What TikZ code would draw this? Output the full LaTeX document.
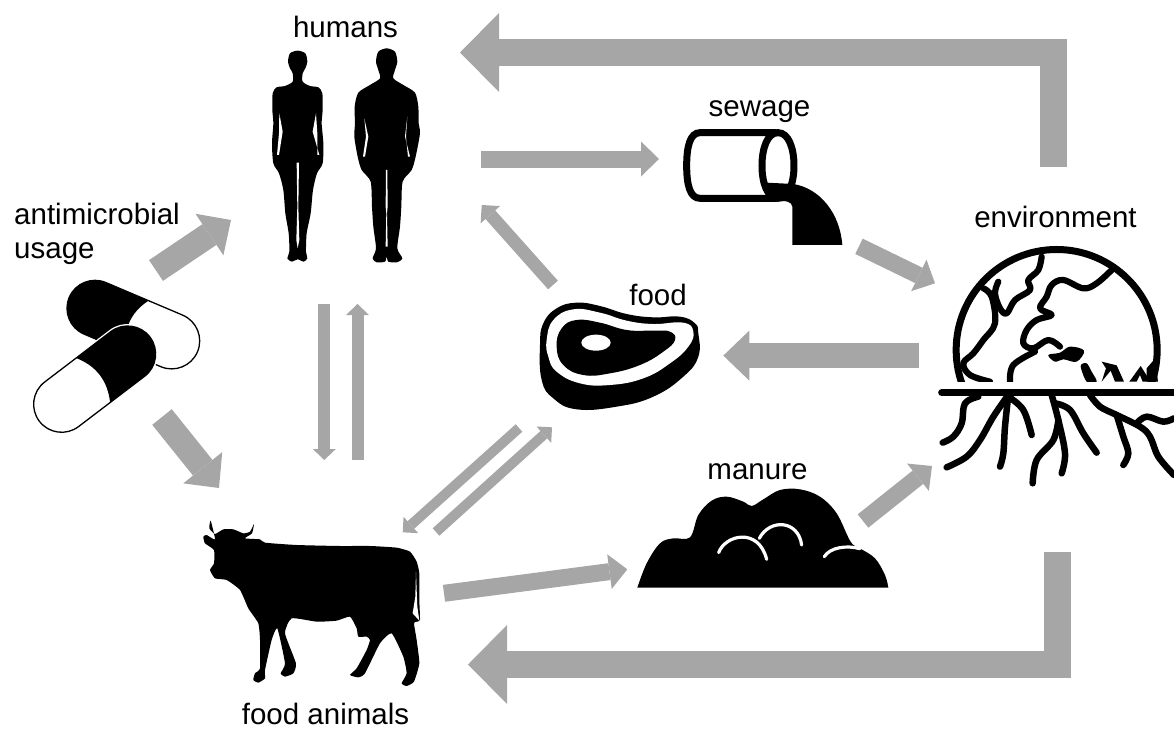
\documentclass[tikz,border=0pt]{standalone}
\usepackage{fontspec}
\setmainfont{Liberation Sans}
\usepackage{xcolor}
\usetikzlibrary{arrows.meta}
\definecolor{flowgray}{HTML}{A6A6A6}
\tikzset{
  lab/.style      = {font=\fontsize{29.5}{34}\selectfont, inner sep=0pt, anchor=base},
  zoomed/.style   = {shift={#1}, x=0.3333pt, y=-0.3333pt},
  flow/.style     = {draw=flowgray, line join=miter, miter limit=10},
  hugeflow/.style = {flow, line width=27pt, -{Triangle[length=39pt,width=79pt,line width=0pt]}},
  bigflow/.style  = {flow, line width=25pt, -{Triangle[length=26pt,width=50pt,line width=0pt]}},
  midflow/.style  = {flow, line width=17pt, -{Triangle[length=18pt,width=35pt,line width=0pt]}},
  slimflow/.style = {flow, line width=13pt, -{Triangle[length=13pt,width=26pt,line width=0pt]}},
  thinflow/.style = {flow, line width=12pt, -{Triangle[length=11pt,width=23pt,line width=0pt]}},
  finflow/.style  = {flow, line width=10pt, -{Triangle[length=11pt,width=22pt,line width=0pt]}},
  rootline/.style = {line width=6.5pt, line cap=round, line join=round},
  landline/.style = {line width=6.2pt, line cap=round, line join=round},
  gap/.style      = {fill=white},
  wormline/.style = {draw=white, line width=3.2pt, line cap=round},
  pillline/.style = {draw=black, line width=1.3pt, fill=white, rounded corners=28pt},
}

\begin{document}
\begin{tikzpicture}[x=1pt,y=-1pt]
\useasboundingbox (0,0) rectangle (1174,728);

% labels
\node[lab] (humans) at (345.5,37) {humans};
\node[lab] (sewage) at (759.5,116) {sewage};
\node[lab] (environment) at (1055.5,227) {environment};
\node[lab] (food) at (658,305) {food};
\node[lab] (manure) at (757.5,479) {manure};
\node[lab] (foodanimals) at (325.5,724) {food animals};
\node[lab, anchor=north west, align=left] (usage) at (14,203) {antimicrobial\\usage};

% woman
\begin{scope}[zoomed={(230,0)}]
\fill plot[smooth cycle, tension=0.45] coordinates {(203,152) (180,160) (174,185) (180,205) (188,220) (188,245)
  (165,258) (140,262) (128,280) (127,330) (130,370) (126,430) (130,490) (147,520) (160,570) (166,640) (176,700)
  (178,755) (172,775) (185,785) (203,778) (221,785) (232,775) (228,755) (230,700) (242,640) (249,570) (261,520)
  (278,490) (280,430) (275,370) (278,330) (277,280) (265,262) (240,258) (218,245) (218,220) (226,205) (232,185) (226,160)};
\fill[gap] (148,340) -- (158,395) -- (147,465) -- (141,465) -- (147,400) -- cycle;
\fill[gap] (258,340) -- (248,395) -- (268,465) -- (262,465) -- (262,400) -- cycle;
\fill[gap] (200,488) -- (207,488) -- (205,620) -- (208,720) -- (203,745) -- (199,720) -- (202,620) -- cycle;
% man
\fill plot[smooth cycle, tension=0.45] coordinates {(470,145) (445,155) (438,185) (445,210) (450,235) (420,255)
  (385,278) (374,320) (375,370) (373,410) (383,470) (395,510) (422,545) (426,620) (430,680) (438,745) (428,775)
  (440,787) (465,785) (470,770) (475,785) (500,787) (517,775) (502,745) (510,680) (514,620) (518,545) (545,510)
  (557,470) (570,400) (566,370) (565,320) (555,278) (520,255) (490,235) (495,210) (502,185) (495,155)};
\fill[gap] (403,355) -- (415,410) -- (405,470) -- (399,470) -- (408,410) -- cycle;
\fill[gap] (532,350) -- (525,410) -- (540,470) -- (534,470) -- (528,410) -- cycle;
\fill[gap] (468,510) -- (472,510) -- (473,620) -- (471,640) -- (473,740) -- (467,740) -- (469,640) -- (467,620) -- cycle;
\end{scope}

% sewage pipe
\begin{scope}[zoomed={(630,90)}]
\draw[line width=7pt] (440,128) -- (210,128) .. controls (180,128) and (170,170) .. (170,227)
  .. controls (170,285) and (180,325) .. (210,325) -- (440,325);
\draw[line width=7pt] (444,128) .. controls (476,128) and (492,175) .. (492,227) .. controls (492,279) and (476,325) .. (444,325)
  .. controls (412,325) and (396,279) .. (396,227) .. controls (396,175) and (412,128) .. (444,128) -- cycle;
\fill (410,278) -- (490,282) .. controls (570,295) and (630,370) .. (637,465) -- (487,465) -- (487,350)
  .. controls (485,335) and (470,330) .. (430,335) .. controls (420,330) and (410,310) .. (410,278) -- cycle;
\end{scope}

% meat
\begin{scope}[zoomed={(520,290)}]
\fill plot[smooth cycle, tension=0.75] coordinates {(60,165) (70,100) (110,55) (170,38) (240,48) (320,72) (400,82)
  (480,80) (525,100) (535,130) (535,200) (490,260) (400,320) (290,350) (170,358) (100,325) (65,270)};
\fill[gap] plot[smooth cycle, tension=0.75] coordinates {(80,150) (100,90) (160,58) (240,68) (320,92) (400,102)
  (490,98) (520,125) (505,170) (450,220) (370,265) (270,285) (180,280) (110,245) (85,200)};
\fill plot[smooth cycle, tension=0.75] coordinates {(110,170) (125,115) (170,90) (240,98) (320,120) (400,122)
  (450,125) (465,150) (430,185) (360,225) (270,250) (190,255) (130,225)};
\fill[gap] (228,158) ellipse [x radius=14.7pt, y radius=8pt];
\end{scope}

% pills
\begin{scope}[zoomed={(0,260)}]
\begin{scope}[shift={(285,145)}, rotate=-23]
\draw[pillline] (-84,-84) rectangle (334,84);
\clip[rounded corners=28pt] (-84,-84) rectangle (334,84);
\fill (-90,-90) -- (139,-84) .. controls (102,-30) and (102,30) .. (139,84) -- (-90,90) -- cycle;
\end{scope}
\begin{scope}[shift={(383,282)}, rotate=-142.7]
\draw[draw=white, line width=4pt, rounded corners=28pt] (-84,-84) rectangle (333,84);
\draw[pillline] (-84,-84) rectangle (333,84);
\clip[rounded corners=28pt] (-84,-84) rectangle (333,84);
\fill (-90,-90) -- (134,-90) .. controls (95,-30) and (95,30) .. (134,90) -- (-90,90) -- cycle;
\end{scope}
\end{scope}

% manure
\begin{scope}[zoomed={(630,460)}]
\fill plot[smooth, tension=0.6] coordinates {(22,383) (50,310) (90,250) (130,235) (180,232) (205,165) (245,122)
  (290,110) (340,125) (365,138) (400,118) (450,90) (510,88) (570,110) (620,160) (662,245) (690,265) (735,295)
  (765,345) (775,383)} -- cycle;
\draw[wormline] (266,278) .. controls (285,225) and (385,200) .. (410,298);
\draw[wormline] (388,235) .. controls (420,175) and (505,180) .. (515,255);
\draw[wormline] (583,290) .. controls (600,262) and (650,255) .. (690,266);
\end{scope}

% cow
\begin{scope}[zoomed={(190,500)}]
\fill plot[smooth cycle, tension=0.3] coordinates {(62,62) (58,85) (75,102) (100,88) (130,88) (160,100) (180,95)
  (192,72) (186,100) (165,115) (210,118) (225,128) (320,135) (450,138) (540,138) (620,143) (660,155) (680,185)
  (688,220) (688,300) (690,360) (680,365) (672,370) (680,420) (688,490) (672,545) (650,558) (635,550) (650,520)
  (640,470) (605,400) (570,430) (525,520) (505,532) (480,525) (500,505) (530,450) (540,420) (530,410) (505,410)
  (500,385) (480,350) (440,362) (380,365) (305,355) (285,400) (318,490) (310,520) (285,530) (272,520) (285,490)
  (262,385) (245,420) (225,510) (225,535) (205,548) (190,540) (195,520) (210,505) (210,420) (205,370) (175,325)
  (150,270) (110,240) (75,235) (60,210) (72,190) (72,150) (45,130) (40,110) (50,105) (75,118)};
\fill[gap] (678,215) -- (682,320) -- (688,362) -- (668,340) -- (676,290) -- cycle;
\end{scope}

% globe and roots
\begin{scope}[zoomed={(920,240)}]
\begin{scope}
\clip (0,0) rectangle (762,425);
\draw[line width=7pt] (410,330) circle [radius=100.5pt];
\foreach \landpts in {
  {(190,145) (215,170) (225,250) (190,300) (160,340) (130,370) (150,405) (210,425)},
  {(365,50) (355,90) (325,120) (330,150) (285,180) (260,220) (240,205) (225,160) (235,125)},
  {(575,90) (530,130) (490,145) (430,120) (395,135) (380,170) (360,205) (395,225) (350,240) (320,270) (310,310) (340,325) (385,300) (420,320)},
  {(345,335) (280,375) (270,425)}}{
  \draw[landline] plot[smooth, tension=0.6] coordinates \landpts;
}
\fill plot[smooth cycle, tension=0.6] coordinates {(385,345) (420,338) (450,320) (492,332) (470,365) (430,358) (405,365)};
\fill plot[smooth cycle, tension=0.5] coordinates {(482,378) (500,370) (515,395) (530,425) (500,425)};
\fill (545,365) -- (590,376) -- (612,425) -- (585,425) -- (572,392) -- (545,425) -- (558,385) -- cycle;
\fill (628,425) -- (662,378) -- (692,425) -- (668,425) -- (660,405) -- (650,425) -- cycle;
\fill (680,385) -- (706,355) -- (714,425) -- (680,425) -- cycle;
\end{scope}
\draw[line width=7pt, line cap=round] (65,458) -- (762,458);
\foreach \rootpts in {
  {(175,470) (135,490) (125,550) (100,590) (68,608)},
  {(265,465) (220,530) (180,600) (140,650) (80,682)},
  {(265,465) (255,560) (250,640) (240,680)},
  {(265,470) (310,510) (335,585)},
  {(395,465) (415,540) (435,640) (425,700)},
  {(415,540) (400,600) (350,660) (338,730)},
  {(405,490) (450,510) (490,580) (530,638)},
  {(510,465) (540,500) (590,525) (660,560) (690,590) (715,650) (762,705)},
  {(590,525) (610,590) (625,640) (610,675)},
  {(650,550) (680,530) (730,545) (762,535)}}{
  \draw[rootline] plot[smooth, tension=0.6] coordinates \rootpts;
}
\end{scope}

% arrow ends
\coordinate (env-top)    at (1053.5,167);
\coordinate (top-corner) at (1053.5,52.5);
\coordinate (hum-top)    at (460,52.5);
\coordinate (env-low)    at (1057,552);
\coordinate (low-corner) at (1057,664.5);
\coordinate (cow-low)    at (468,664.5);
\coordinate (hum-out)    at (481,159);
\coordinate (sew-in)     at (659,159);
\coordinate (pill-up)    at (156,270.5);
\coordinate (hum-in)     at (231,220);
\coordinate (pill-down)  at (162,417);
\coordinate (cow-in)     at (219,488);
\coordinate (hum-down)   at (324.3,304);
\coordinate (cow-top)    at (324.3,460);
\coordinate (cow-up)     at (357.5,460);
\coordinate (hum-low)    at (357.5,304);
\coordinate (food-hum)   at (553,285);
\coordinate (hum-food)   at (481.7,205);
\coordinate (sew-out)    at (859,246.3);
\coordinate (env-in)     at (935,283.3);
\coordinate (env-out)    at (919.3,355.6);
\coordinate (food-in)    at (723.3,355.6);
\coordinate (food-cow)   at (519,428);
\coordinate (cow-food)   at (402.7,532.3);
\coordinate (cow-out)    at (436,532);
\coordinate (food-low)   at (552,427.3);
\coordinate (cow-man)    at (444,593.3);
\coordinate (man-in)     at (627.3,569.3);
\coordinate (man-out)    at (863,521);
\coordinate (env-man)    at (932,466);

% flows
\draw[hugeflow] (env-top) -- (top-corner) -- (hum-top);
\draw[hugeflow] (env-low) -- (low-corner) -- (cow-low);
\draw[midflow] (hum-out) -- (sew-in);
\draw[bigflow] (pill-up) -- (hum-in);
\draw[bigflow] (pill-down) -- (cow-in);
\draw[thinflow] (hum-down) -- (cow-top);
\draw[thinflow] (cow-up) -- (hum-low);
\draw[slimflow] (food-hum) -- (hum-food);
\draw[midflow] (sew-out) -- (env-in);
\draw[bigflow] (env-out) -- (food-in);
\draw[finflow] (food-cow) -- (cow-food);
\draw[finflow] (cow-out) -- (food-low);
\draw[midflow] (cow-man) -- (man-in);
\draw[midflow] (man-out) -- (env-man);
\end{tikzpicture}
\end{document}
